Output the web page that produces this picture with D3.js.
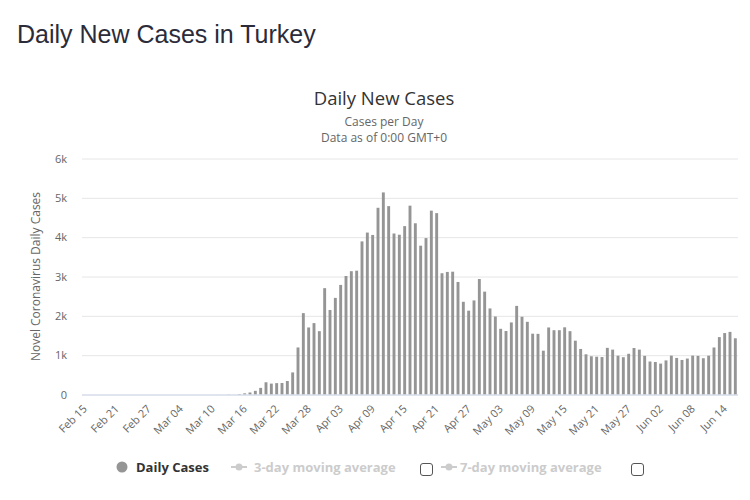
<!DOCTYPE html>
<html>
<head>
<meta charset="utf-8">
<script src="https://cdn.jsdelivr.net/npm/d3@7"></script>
<style>
  html, body { margin: 0; padding: 0; background: #fff; }
  svg { display: block; }
</style>
</head>
<body>
<svg id="chart" width="750" height="500"></svg>
<script>
// ---- data ----
const categories = [
  "Feb 15","Feb 16","Feb 17","Feb 18","Feb 19","Feb 20","Feb 21","Feb 22","Feb 23","Feb 24","Feb 25","Feb 26","Feb 27","Feb 28","Feb 29",
  "Mar 01","Mar 02","Mar 03","Mar 04","Mar 05","Mar 06","Mar 07","Mar 08","Mar 09","Mar 10","Mar 11","Mar 12","Mar 13","Mar 14","Mar 15",
  "Mar 16","Mar 17","Mar 18","Mar 19","Mar 20","Mar 21","Mar 22","Mar 23","Mar 24","Mar 25","Mar 26","Mar 27","Mar 28","Mar 29","Mar 30","Mar 31",
  "Apr 01","Apr 02","Apr 03","Apr 04","Apr 05","Apr 06","Apr 07","Apr 08","Apr 09","Apr 10","Apr 11","Apr 12","Apr 13","Apr 14","Apr 15",
  "Apr 16","Apr 17","Apr 18","Apr 19","Apr 20","Apr 21","Apr 22","Apr 23","Apr 24","Apr 25","Apr 26","Apr 27","Apr 28","Apr 29","Apr 30",
  "May 01","May 02","May 03","May 04","May 05","May 06","May 07","May 08","May 09","May 10","May 11","May 12","May 13","May 14","May 15",
  "May 16","May 17","May 18","May 19","May 20","May 21","May 22","May 23","May 24","May 25","May 26","May 27","May 28","May 29","May 30","May 31",
  "Jun 01","Jun 02","Jun 03","Jun 04","Jun 05","Jun 06","Jun 07","Jun 08","Jun 09","Jun 10","Jun 11","Jun 12","Jun 13","Jun 14","Jun 15","Jun 16"
];
const dailyCases = [
  0,0,0,0,0,0,0,0,0,0,0,0,0,0,0,
  0,0,0,0,0,0,0,0,0,0,1,0,4,1,12,
  29,51,93,168,311,277,289,293,343,561,1196,2069,1704,1815,1610,2704,
  2148,2456,2786,3013,3135,3148,3892,4117,4056,4747,5138,4789,4093,4062,4281,
  4801,4353,3783,3977,4674,4611,3083,3116,3122,2861,2357,2131,2392,2936,2615,
  2188,1983,1670,1614,1832,2253,1977,1848,1546,1542,1114,1704,1635,1635,1708,
  1610,1368,1158,1022,972,961,952,1186,1141,987,948,1035,1182,1141,983,839,
  827,786,867,988,930,878,914,989,983,922,987,1195,1459,1562,1592,1429
];
const xTickLabels = ["Feb 15","Feb 21","Feb 27","Mar 04","Mar 10","Mar 16","Mar 22","Mar 28","Apr 03","Apr 09","Apr 15","Apr 21","Apr 27","May 03","May 09","May 15","May 21","May 27","Jun 02","Jun 08","Jun 14"];
const yTicks = [0, 1000, 2000, 3000, 4000, 5000, 6000];
const yTickLabels = ["0","1k","2k","3k","4k","5k","6k"];
const legendItems = ["Daily Cases", "3-day moving average", "7-day moving average"];

// ---- drawing ----
const svg = d3.select("#chart");
const chartFont = "'Open Sans', 'DejaVu Sans', sans-serif";
const plot = { left: 82, right: 738, top: 158.5, bottom: 394.5 };

svg.append("text")
  .attr("x", 17).attr("y", 43)
  .attr("font-family", "'Liberation Sans', Arial, sans-serif")
  .attr("font-size", 25)
  .attr("fill", "#2b2b3a")
  .text("Daily New Cases in Turkey");

svg.append("text")
  .attr("x", 384).attr("y", 105)
  .attr("text-anchor", "middle")
  .attr("font-family", chartFont).attr("font-size", 18.5)
  .attr("fill", "#333")
  .text("Daily New Cases");
svg.append("text")
  .attr("x", 384).attr("y", 126)
  .attr("text-anchor", "middle")
  .attr("font-family", chartFont).attr("font-size", 12)
  .attr("fill", "#666")
  .text("Cases per Day");
svg.append("text")
  .attr("x", 384).attr("y", 142)
  .attr("text-anchor", "middle")
  .attr("font-family", chartFont).attr("font-size", 12)
  .attr("fill", "#666")
  .text("Data as of 0:00 GMT+0");

const x = d3.scaleBand().domain(categories).range([plot.left, plot.right]).padding(0);
const y = d3.scaleLinear().domain([0, 6000]).range([plot.bottom, plot.top]);

// grid
const yAxis = d3.axisLeft(y).tickValues(yTicks)
  .tickSize(-(plot.right - plot.left))
  .tickFormat((d, i) => yTickLabels[i]);
const gy = svg.append("g").attr("transform", `translate(${plot.left},0)`).call(yAxis);
gy.select(".domain").remove();
gy.selectAll(".tick line").attr("stroke", "#e6e6e6").attr("stroke-width", 1);
gy.selectAll(".tick text")
  .attr("x", -15)
  .attr("font-family", chartFont).attr("font-size", 11)
  .attr("fill", "#666");

// y axis title
svg.append("text")
  .attr("transform", `translate(40,${(plot.top + plot.bottom) / 2}) rotate(-90)`)
  .attr("text-anchor", "middle")
  .attr("font-family", chartFont).attr("font-size", 12)
  .attr("fill", "#666")
  .text("Novel Coronavirus Daily Cases");

// bars
const barW = 2.9;
svg.append("g").selectAll("rect")
  .data(categories.map((c, i) => ({ c, v: dailyCases[i] })))
  .join("rect")
  .attr("x", d => x(d.c) + x.bandwidth() / 2 - barW / 2)
  .attr("width", barW)
  .attr("y", d => y(d.v))
  .attr("height", d => y(0) - y(d.v))
  .attr("fill", "#959595");

// x axis baseline + labels
const xAxis = d3.axisBottom(x).tickValues(xTickLabels).tickSize(0).tickPadding(0);
const gx = svg.append("g").attr("transform", `translate(0,${plot.bottom})`).call(xAxis);
gx.select(".domain").attr("stroke", "#ccd6eb").attr("d", `M${plot.left},0.5H${plot.right}`);
gx.selectAll(".tick text")
  .attr("y", 0).attr("dy", 0)
  .attr("text-anchor", "end")
  .attr("transform", "translate(3,15) rotate(-45)")
  .attr("font-family", chartFont).attr("font-size", 11)
  .attr("fill", "#666");

// legend
const lg = svg.append("g").attr("font-family", chartFont).attr("font-size", 13).attr("font-weight", "bold");
lg.append("circle").attr("cx", 122).attr("cy", 467).attr("r", 5.5).attr("fill", "#959595");
lg.append("text").attr("x", 136).attr("y", 471.5).attr("fill", "#333").text(legendItems[0]);

function hiddenItem(sx, tx, bx, label) {
  lg.append("line").attr("x1", sx).attr("x2", sx + 16).attr("y1", 467).attr("y2", 467)
    .attr("stroke", "#cccccc").attr("stroke-width", 2);
  lg.append("circle").attr("cx", sx + 8).attr("cy", 467).attr("r", 3.5).attr("fill", "#cccccc");
  lg.append("text").attr("x", tx).attr("y", 471.5).attr("fill", "#cccccc").text(label);
  lg.append("rect").attr("x", bx + 0.5).attr("y", 463.5).attr("width", 12).attr("height", 12)
    .attr("rx", 2.5).attr("fill", "#fff").attr("stroke", "#555").attr("stroke-width", 1);
}
hiddenItem(231, 254, 420, legendItems[1]);
hiddenItem(441, 460, 631, legendItems[2]);
</script>
</body>
</html>
